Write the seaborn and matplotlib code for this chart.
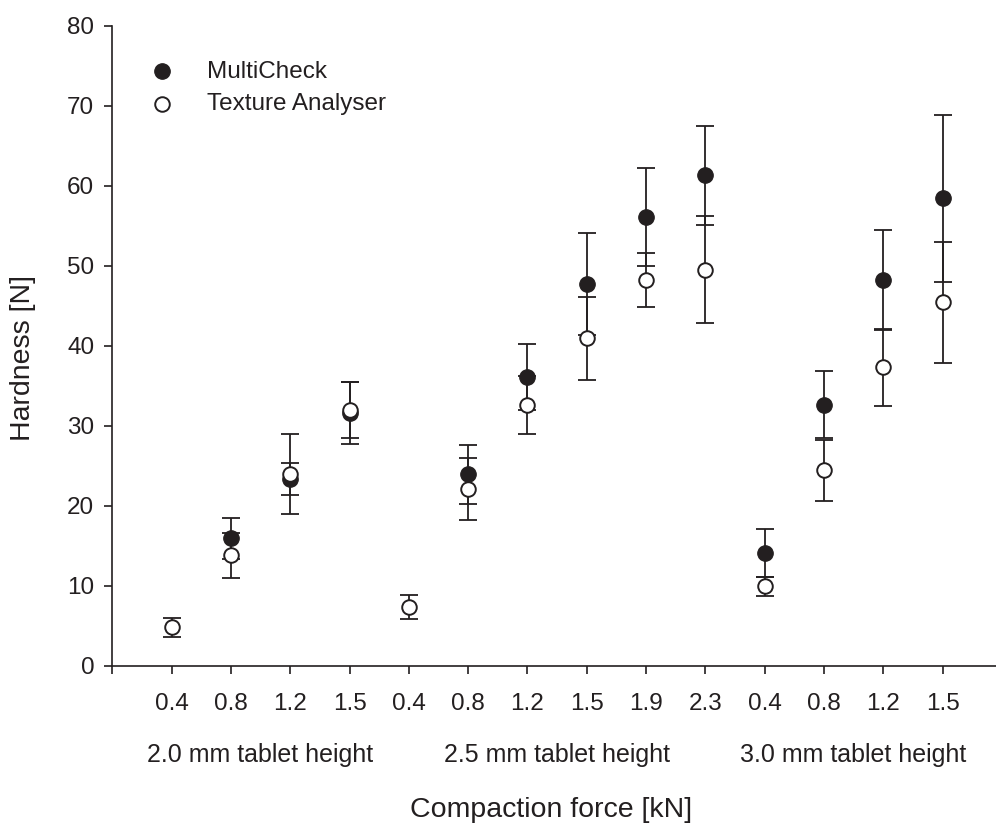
import numpy as np
import pandas as pd
import matplotlib
matplotlib.use("Agg")
import matplotlib.pyplot as plt
import seaborn as sns

# ---- data ----
force_labels = ["0.4", "0.8", "1.2", "1.5", "0.4", "0.8", "1.2", "1.5", "1.9", "2.3",
                "0.4", "0.8", "1.2", "1.5"]
group_labels = ["2.0 mm tablet height", "2.5 mm tablet height", "3.0 mm tablet height"]
group_sizes = [4, 6, 4]

multicheck_mean = [np.nan, 15.9, 23.3, 31.6, np.nan, 23.9, 36.1, 47.7, 56.1, 61.3, 14.1, 32.6, 48.2, 58.4]
multicheck_sd = [np.nan, 2.6, 2.0, 3.9, np.nan, 3.7, 4.1, 6.4, 6.1, 6.2, 3.0, 4.2, 6.2, 10.4]
texture_mean = [4.8, 13.8, 24.0, 32.0, 7.3, 22.1, 32.6, 40.9, 48.2, 49.5, 9.9, 24.4, 37.3, 45.4]
texture_sd = [1.2, 2.8, 5.0, 3.5, 1.5, 3.9, 3.6, 5.2, 3.4, 6.7, 1.15, 3.8, 4.8, 7.6]

pos = np.arange(len(force_labels))
df_mc = pd.DataFrame({"pos": pos, "hardness": multicheck_mean, "sd": multicheck_sd})
df_ta = pd.DataFrame({"pos": pos, "hardness": texture_mean, "sd": texture_sd})

INK = "#231f20"

sns.set_style("ticks")
plt.rcParams["font.family"] = ["Liberation Sans", "DejaVu Sans"]
plt.rcParams["text.color"] = INK
plt.rcParams["axes.labelcolor"] = INK
plt.rcParams["xtick.color"] = INK
plt.rcParams["ytick.color"] = INK
plt.rcParams["axes.edgecolor"] = INK

fig = plt.figure(figsize=(9.96, 8.25), dpi=100)
W, H = 996, 825
left_px, right_px = 112.3, 995.9
bottom_px, top_px = 665.7, 25.5
ax = fig.add_axes([left_px / W, 1 - bottom_px / H, (right_px - left_px) / W, (bottom_px - top_px) / H])

err_kw = dict(fmt="none", ecolor=INK, elinewidth=1.3, capsize=6.5, capthick=1.3, zorder=2)
ax.errorbar(df_mc["pos"], df_mc["hardness"], yerr=df_mc["sd"], **err_kw)
ax.errorbar(df_ta["pos"], df_ta["hardness"], yerr=df_ta["sd"], **err_kw)

sns.scatterplot(data=df_mc, x="pos", y="hardness", ax=ax, color=INK, edgecolor=INK,
                s=125, linewidth=0.8, marker="o", label="MultiCheck", zorder=3)
sns.scatterplot(data=df_ta, x="pos", y="hardness", ax=ax, color="white", edgecolor=INK,
                s=110, linewidth=1.4, marker="o", label="Texture Analyser", zorder=4)

ax.set_xlim(-1, 13.9)
ax.set_ylim(0, 80)
ax.set_yticks(np.arange(0, 81, 10))
ax.set_xticks(pos)
ax.set_xticklabels(force_labels)
ax.set_xticks([-1], minor=True)
sns.despine(ax=ax)
ax.spines["left"].set_linewidth(1.2)
ax.spines["bottom"].set_linewidth(1.2)
ax.spines["left"].set_bounds(0, 80)

ax.tick_params(axis="x", which="both", direction="out", length=6, width=1.2, pad=14, labelsize=17.5)
ax.tick_params(axis="y", direction="out", length=6, width=1.2, pad=7, labelsize=17.5)

# group labels under the tick labels
start = 0
for lab, n in zip(group_labels, group_sizes):
    center = start + (n - 1) / 2
    ax.text(center, -0.1395, lab, transform=ax.get_xaxis_transform(),
            ha="center", va="center", fontsize=18)
    start += n

ax.set_xlabel("Compaction force [kN]", fontsize=20.5)
ax.xaxis.set_label_coords(0.4965, -0.2254)
ax.xaxis.label.set_va("center")
ax.set_ylabel("Hardness [N]", fontsize=20.5)
ax.yaxis.set_label_coords(-0.101, 0.4806)
ax.yaxis.label.set_va("center")

leg = ax.legend(loc="upper left", bbox_to_anchor=(149.9 / W, 1 - 60.5 / H),
                bbox_transform=fig.transFigure, frameon=False, fontsize=17.5,
                handlelength=1.0, handletextpad=1.33, labelspacing=0.45,
                borderpad=0, borderaxespad=0, markerscale=1.0)

fig.savefig("out.png", dpi=100)
